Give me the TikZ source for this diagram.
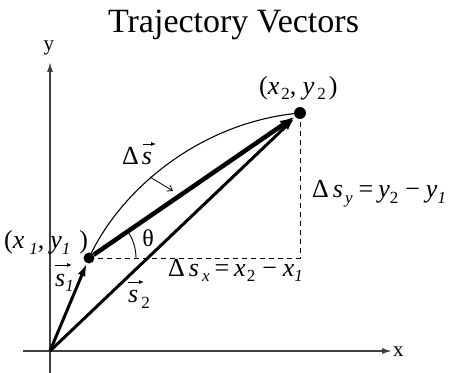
\documentclass[tikz,border=0pt]{standalone}
\usepackage{fontspec}
\setmainfont{Liberation Serif}
\usetikzlibrary{arrows.meta}
\newcommand{\lsb}[1]{\raisebox{-5pt}{\fontsize{17}{17}\selectfont #1}}
\begin{document}
\begin{tikzpicture}[x=1pt,y=1pt,
  axis/.style={line width=1.4pt, draw=black!75, -{Latex[length=10pt,width=6pt]}},
  vec/.style={line width=3pt, -{Latex[length=13pt,width=8pt]}},
  dvec/.style={line width=4.5pt, -{Latex[length=15pt,width=10pt]}},
  guide/.style={line width=0.9pt, dash pattern=on 5pt off 4pt},
  pathline/.style={line width=1.1pt},
  dot/.style={circle, fill=black, inner sep=0pt},
  lbl/.style={inner sep=0pt, anchor=base west, font=\fontsize{26}{26}\selectfont},
  axlbl/.style={inner sep=0pt, anchor=base west, font=\fontsize{21}{21}\selectfont},
  ovarrow/.style={line width=0.8pt, -{Latex[length=5pt,width=4pt]}},
  pointer/.style={line width=0.8pt, -{Straight Barb[length=5pt,width=7pt]}}]
\useasboundingbox (0,0) rectangle (451,373);
% axes
\coordinate (O) at (50,22);
\coordinate (xstart) at (23,22);
\coordinate (xend) at (392,22);
\coordinate (ybot) at (50,0);
\coordinate (yend) at (50,311);
\draw[axis] (xstart) -- (xend);
\draw[axis] (ybot) -- (yend);
\node[axlbl] (xl) at (393,16) {x};
\node[axlbl, anchor=base] (yl) at (49,322) {y};
% title
\node[inner sep=0pt, anchor=base, font=\fontsize{34}{34}\selectfont] (title) at (233.5,340) {Trajectory Vectors};
% points
\node[dot, minimum size=11pt] (P1) at (89,115) {};
\node[dot, minimum size=12pt] (P2) at (300,260) {};
\coordinate (C) at (300,115);
% trajectory arc
\draw[pathline] (P1.center) .. controls (120,183) and (200,251) .. (P2.center);
% dashed components
\draw[guide] (P1.center) -- (C) -- (P2.center);
% angle arc
\draw[line width=0.9pt] ([shift={(47,0)}]P1.center) arc[start angle=0, end angle=34.5, radius=47];
% vectors
\draw[vec] (O) -- (P1);
\draw[vec, shorten >=1pt] (O) -- (P2);
\draw[dvec] (P1) -- (P2);
% labels
\node[lbl] (p2l) at (259,278) {(\textit{x}\hspace{2pt}\lsb{2}, \textit{y}\hspace{3pt}\lsb{2}\hspace{3pt})};
\node[lbl] (p1l) at (4,124) {(\textit{x}\hspace{5pt}\lsb{\textit{1}},\hspace{6pt}\textit{y}\lsb{\textit{1}}\hspace{9pt})};
\node[lbl] (dsyl) at (312,175) {Δ\hspace{4pt}\textit{s}\hspace{2pt}\lsb{\textit{y}}\hspace{6pt}=\hspace{5pt}\textit{y}\lsb{2}\hspace{7pt}−\hspace{6pt}\textit{y}\lsb{\textit{1}}};
\node[lbl] (dsxl) at (168,96) {Δ\hspace{4pt}\textit{s}\hspace{3pt}\lsb{\textit{x}}\hspace{5pt}=\hspace{5pt}\textit{x}\hspace{1pt}\lsb{2}\hspace{7pt}−\hspace{6pt}\textit{x}\lsb{\textit{1}}};
\node[lbl] (s1l) at (55,86) {\textit{s}\lsb{\textit{1}}};
\node[lbl] (s2l) at (128,70) {\textit{s}\hspace{3pt}\lsb{2}};
\node[lbl] (dsl) at (122,208) {Δ\hspace{3pt}\textit{s}};
\node[inner sep=0pt, font=\fontsize{24}{24}\selectfont] (th) at (148,135) {θ};
% over-arrows
\draw[ovarrow] ([shift={(0,22)}]s1l.base west) -- ++(17,0);
\draw[ovarrow] ([shift={(0,21)}]s2l.base west) -- ++(16,0);
\draw[ovarrow] ([shift={(21,21)}]dsl.base west) -- ++(13,0);
% pointer from label to displacement vector
\coordinate (ptrA) at (150,196);
\coordinate (ptrB) at (173,182);
\draw[pointer] (ptrA) -- (ptrB);
\end{tikzpicture}
\end{document}
